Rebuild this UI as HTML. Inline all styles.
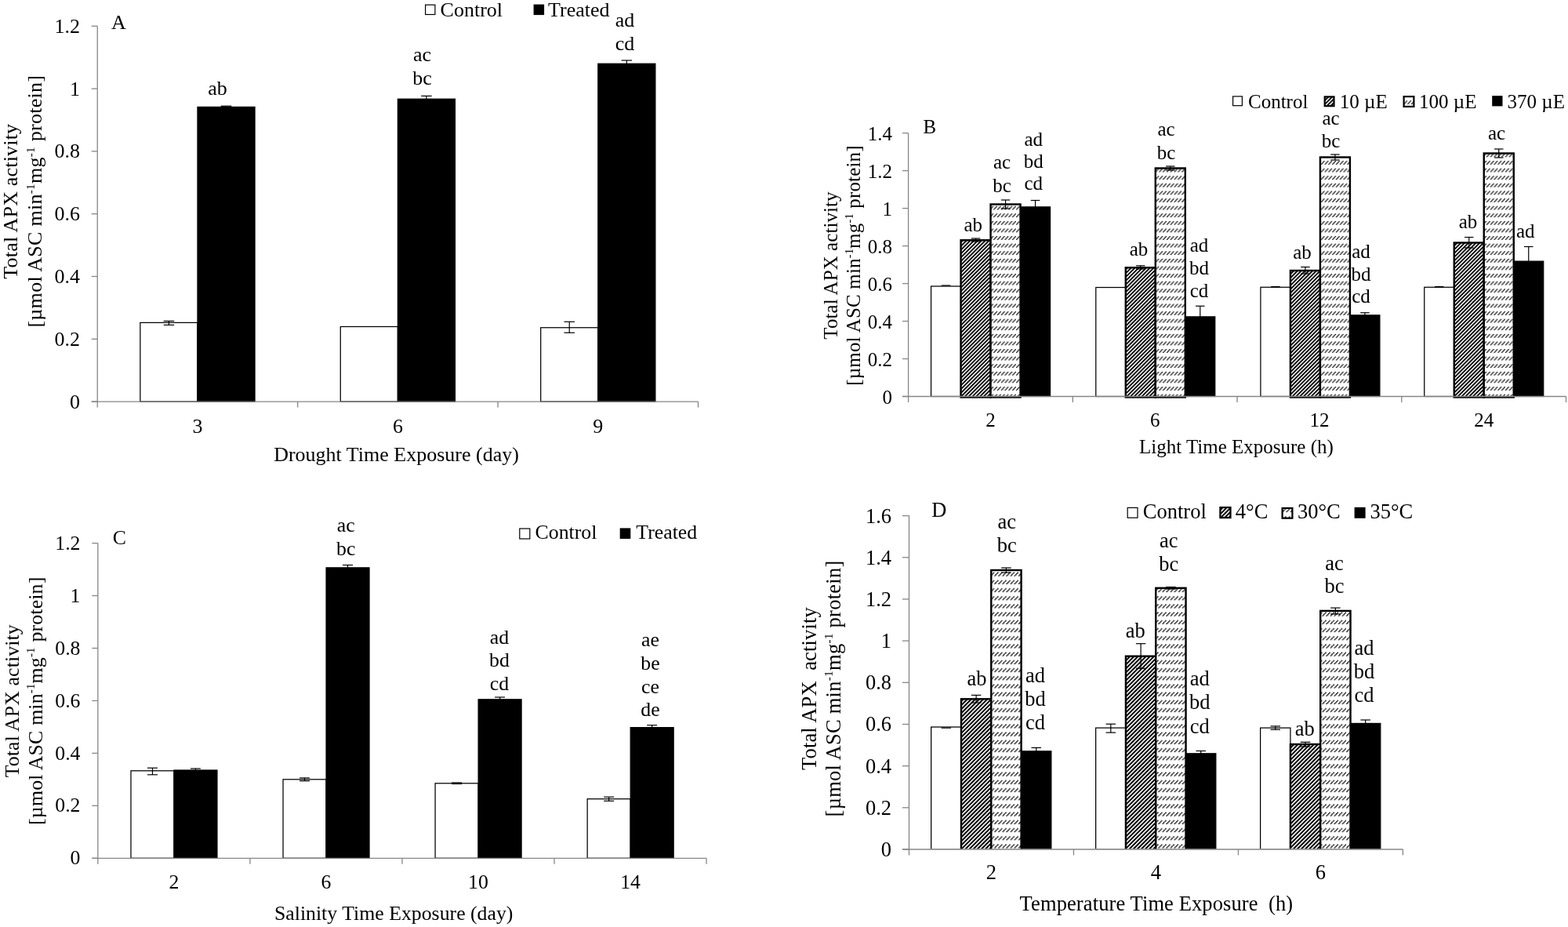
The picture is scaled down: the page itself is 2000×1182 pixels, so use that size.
<!DOCTYPE html>
<html><head><meta charset="utf-8"><title>Total APX activity</title>
<style>html,body{margin:0;padding:0;background:#fff;}svg{display:block;}</style>
</head><body>
<svg width="2000" height="1182" viewBox="0 0 2000 1182">
<defs>
<pattern id="dkB" patternUnits="userSpaceOnUse" width="3.3941" height="20" patternTransform="rotate(45)"><rect width="3.3941" height="20" fill="#000"/><rect x="0" width="1.527" height="20" fill="#fff"/></pattern>
<pattern id="ltB" patternUnits="userSpaceOnUse" width="8" height="8" patternTransform="translate(0,-1.3) scale(1.2)"><rect width="8" height="8" fill="#fff"/><path d="M2.85,4h1.3v1h-1.3zM6.85,4h1.3v1h-1.3zM1.85,5h1.3v1h-1.3zM5.85,5h1.3v1h-1.3zM0.85,6h1.3v1h-1.3zM4.85,6h1.3v1h-1.3zM-0.15,7h1.3v1h-1.3zM3.85,7h1.3v1h-1.3z" fill="#000"/></pattern>
<pattern id="dkD" patternUnits="userSpaceOnUse" width="3.6062" height="20" patternTransform="rotate(45)"><rect width="3.6062" height="20" fill="#000"/><rect x="0" width="1.623" height="20" fill="#fff"/></pattern>
<pattern id="ltD" patternUnits="userSpaceOnUse" width="8" height="8" patternTransform="translate(3.5,0.35) scale(1.275)"><rect width="8" height="8" fill="#fff"/><path d="M2.85,4h1.3v1h-1.3zM6.85,4h1.3v1h-1.3zM1.85,5h1.3v1h-1.3zM5.85,5h1.3v1h-1.3zM0.85,6h1.3v1h-1.3zM4.85,6h1.3v1h-1.3zM-0.15,7h1.3v1h-1.3zM3.85,7h1.3v1h-1.3z" fill="#000"/></pattern>
</defs>
<rect width="2000" height="1182" fill="#fff"/>
<g font-family='"Liberation Serif", "Times New Roman", serif' fill="#000">
<rect x="178.86" y="411.4" width="73.1" height="100.7" fill="#fff" stroke="#000" stroke-width="1.25"/>
<rect x="251.96" y="136.4" width="73.1" height="375.7" fill="#000" stroke="#000" stroke-width="1.2"/>
<rect x="434.28" y="416.5" width="73.1" height="95.6" fill="#fff" stroke="#000" stroke-width="1.25"/>
<rect x="507.38" y="126.2" width="73.1" height="385.9" fill="#000" stroke="#000" stroke-width="1.2"/>
<rect x="689.7" y="417.75" width="73.1" height="94.35" fill="#fff" stroke="#000" stroke-width="1.25"/>
<rect x="762.8" y="81.2" width="73.1" height="430.9" fill="#000" stroke="#000" stroke-width="1.2"/>
<line x1="215.41" y1="409.4" x2="215.41" y2="414.4" stroke="#000" stroke-width="1.2"/>
<line x1="208.66" y1="409.4" x2="222.16" y2="409.4" stroke="#000" stroke-width="1.2"/>
<line x1="208.66" y1="414.4" x2="222.16" y2="414.4" stroke="#000" stroke-width="1.2"/>
<line x1="288.51" y1="135.2" x2="288.51" y2="136.4" stroke="#000" stroke-width="1.2"/>
<line x1="281.76" y1="135.2" x2="295.26" y2="135.2" stroke="#000" stroke-width="1.2"/>
<line x1="281.76" y1="136.4" x2="295.26" y2="136.4" stroke="#000" stroke-width="1.2"/>
<line x1="543.93" y1="122.4" x2="543.93" y2="128.8" stroke="#000" stroke-width="1.2"/>
<line x1="537.18" y1="122.4" x2="550.68" y2="122.4" stroke="#000" stroke-width="1.2"/>
<line x1="537.18" y1="128.8" x2="550.68" y2="128.8" stroke="#000" stroke-width="1.2"/>
<line x1="726.25" y1="410.25" x2="726.25" y2="424.25" stroke="#000" stroke-width="1.2"/>
<line x1="719.5" y1="410.25" x2="733" y2="410.25" stroke="#000" stroke-width="1.2"/>
<line x1="719.5" y1="424.25" x2="733" y2="424.25" stroke="#000" stroke-width="1.2"/>
<line x1="799.35" y1="77" x2="799.35" y2="84.2" stroke="#000" stroke-width="1.2"/>
<line x1="792.6" y1="77" x2="806.1" y2="77" stroke="#000" stroke-width="1.2"/>
<line x1="792.6" y1="84.2" x2="806.1" y2="84.2" stroke="#000" stroke-width="1.2"/>
<line x1="124.25" y1="33.3" x2="124.25" y2="512.1" stroke="#868686" stroke-width="1.3"/>
<line x1="116.75" y1="512.1" x2="890.51" y2="512.1" stroke="#868686" stroke-width="1.3"/>
<line x1="116.75" y1="33.3" x2="124.25" y2="33.3" stroke="#868686" stroke-width="1.3"/>
<text x="102" y="41.8" font-size="26" text-anchor="end">1.2</text>
<line x1="116.75" y1="113.1" x2="124.25" y2="113.1" stroke="#868686" stroke-width="1.3"/>
<text x="102" y="121.6" font-size="26" text-anchor="end">1</text>
<line x1="116.75" y1="192.9" x2="124.25" y2="192.9" stroke="#868686" stroke-width="1.3"/>
<text x="102" y="201.4" font-size="26" text-anchor="end">0.8</text>
<line x1="116.75" y1="272.7" x2="124.25" y2="272.7" stroke="#868686" stroke-width="1.3"/>
<text x="102" y="281.2" font-size="26" text-anchor="end">0.6</text>
<line x1="116.75" y1="352.5" x2="124.25" y2="352.5" stroke="#868686" stroke-width="1.3"/>
<text x="102" y="361" font-size="26" text-anchor="end">0.4</text>
<line x1="116.75" y1="432.3" x2="124.25" y2="432.3" stroke="#868686" stroke-width="1.3"/>
<text x="102" y="440.8" font-size="26" text-anchor="end">0.2</text>
<line x1="116.75" y1="512.1" x2="124.25" y2="512.1" stroke="#868686" stroke-width="1.3"/>
<text x="102" y="520.6" font-size="26" text-anchor="end">0</text>
<line x1="124.25" y1="512.1" x2="124.25" y2="519.6" stroke="#868686" stroke-width="1.3"/>
<line x1="379.67" y1="512.1" x2="379.67" y2="519.6" stroke="#868686" stroke-width="1.3"/>
<line x1="635.09" y1="512.1" x2="635.09" y2="519.6" stroke="#868686" stroke-width="1.3"/>
<line x1="890.51" y1="512.1" x2="890.51" y2="519.6" stroke="#868686" stroke-width="1.3"/>
<text x="251.96" y="551.6" font-size="26" text-anchor="middle">3</text>
<text x="507.38" y="551.6" font-size="26" text-anchor="middle">6</text>
<text x="762.8" y="551.6" font-size="26" text-anchor="middle">9</text>
<text x="505.5" y="587.5" font-size="26" text-anchor="middle">Drought Time Exposure (day)</text>
<text transform="translate(22.4,256.8) rotate(-90)" font-size="26" text-anchor="middle" textLength="197.7" lengthAdjust="spacing">Total APX activity</text>
<text transform="translate(53.3,256.8) rotate(-90)" font-size="26" text-anchor="middle" textLength="321.6" lengthAdjust="spacing">[µmol ASC min<tspan font-size="15.1" dy="-9.4">-1</tspan><tspan dy="9.4">mg</tspan><tspan font-size="15.1" dy="-9.4">-1</tspan><tspan dy="9.4"> protein]</tspan></text>
<text x="142" y="36.5" font-size="26" text-anchor="start">A</text>
<rect x="542.6" y="6.2" width="12.3" height="12.3" fill="#fff" stroke="#000" stroke-width="1.2"/>
<text x="561.6" y="21" font-size="26" text-anchor="start">Control</text>
<rect x="680.6" y="5.6" width="13.5" height="13.5" fill="#000"/>
<text x="699" y="21" font-size="26" text-anchor="start">Treated</text>
<text x="277.4" y="121.3" font-size="26" text-anchor="middle">ab</text>
<text x="538.5" y="78" font-size="26" text-anchor="middle">ac</text>
<text x="538.5" y="107.5" font-size="26" text-anchor="middle">bc</text>
<text x="797" y="34.4" font-size="26" text-anchor="middle">ad</text>
<text x="797" y="64.4" font-size="26" text-anchor="middle">cd</text>
<rect x="1187.56" y="365" width="38" height="140.5" fill="#fff" stroke="#000" stroke-width="1.25"/>
<rect x="1225.56" y="306.25" width="38" height="200.25" fill="url(#dkB)" stroke="#000" stroke-width="2.4"/>
<rect x="1263.56" y="260.5" width="38" height="246" fill="url(#ltB)" stroke="#000" stroke-width="2.4"/>
<rect x="1301.56" y="263.85" width="38" height="241.65" fill="#000" stroke="#000" stroke-width="1.2"/>
<rect x="1397.79" y="366.5" width="38" height="139" fill="#fff" stroke="#000" stroke-width="1.25"/>
<rect x="1435.79" y="341.25" width="38" height="165.25" fill="url(#dkB)" stroke="#000" stroke-width="2.4"/>
<rect x="1473.79" y="214.5" width="38" height="292" fill="url(#ltB)" stroke="#000" stroke-width="2.4"/>
<rect x="1511.79" y="403.85" width="38" height="101.65" fill="#000" stroke="#000" stroke-width="1.2"/>
<rect x="1607.92" y="366.25" width="38" height="139.25" fill="#fff" stroke="#000" stroke-width="1.25"/>
<rect x="1645.92" y="345" width="38" height="161.5" fill="url(#dkB)" stroke="#000" stroke-width="2.4"/>
<rect x="1683.92" y="200.5" width="38" height="306" fill="url(#ltB)" stroke="#000" stroke-width="2.4"/>
<rect x="1721.92" y="401.85" width="38" height="103.65" fill="#000" stroke="#000" stroke-width="1.2"/>
<rect x="1816.75" y="366.25" width="38" height="139.25" fill="#fff" stroke="#000" stroke-width="1.25"/>
<rect x="1854.75" y="309.5" width="38" height="197" fill="url(#dkB)" stroke="#000" stroke-width="2.4"/>
<rect x="1892.75" y="195.5" width="38" height="311" fill="url(#ltB)" stroke="#000" stroke-width="2.4"/>
<rect x="1930.75" y="333.1" width="38" height="172.4" fill="#000" stroke="#000" stroke-width="1.2"/>
<line x1="1200.81" y1="364" x2="1212.31" y2="364" stroke="#000" stroke-width="1.2"/>
<line x1="1244.56" y1="304" x2="1244.56" y2="308" stroke="#000" stroke-width="1.2"/>
<line x1="1238.81" y1="304" x2="1250.31" y2="304" stroke="#000" stroke-width="1.2"/>
<line x1="1238.81" y1="308" x2="1250.31" y2="308" stroke="#000" stroke-width="1.2"/>
<line x1="1282.56" y1="255" x2="1282.56" y2="266" stroke="#000" stroke-width="1.2"/>
<line x1="1276.81" y1="255" x2="1288.31" y2="255" stroke="#000" stroke-width="1.2"/>
<line x1="1276.81" y1="266" x2="1288.31" y2="266" stroke="#000" stroke-width="1.2"/>
<line x1="1320.56" y1="255.5" x2="1320.56" y2="271" stroke="#000" stroke-width="1.2"/>
<line x1="1314.81" y1="255.5" x2="1326.31" y2="255.5" stroke="#000" stroke-width="1.2"/>
<line x1="1314.81" y1="271" x2="1326.31" y2="271" stroke="#000" stroke-width="1.2"/>
<line x1="1454.79" y1="338.75" x2="1454.79" y2="343" stroke="#000" stroke-width="1.2"/>
<line x1="1449.04" y1="338.75" x2="1460.54" y2="338.75" stroke="#000" stroke-width="1.2"/>
<line x1="1449.04" y1="343" x2="1460.54" y2="343" stroke="#000" stroke-width="1.2"/>
<line x1="1492.79" y1="212" x2="1492.79" y2="217" stroke="#000" stroke-width="1.2"/>
<line x1="1487.04" y1="212" x2="1498.54" y2="212" stroke="#000" stroke-width="1.2"/>
<line x1="1487.04" y1="217" x2="1498.54" y2="217" stroke="#000" stroke-width="1.2"/>
<line x1="1530.79" y1="390.25" x2="1530.79" y2="416.25" stroke="#000" stroke-width="1.2"/>
<line x1="1525.04" y1="390.25" x2="1536.54" y2="390.25" stroke="#000" stroke-width="1.2"/>
<line x1="1525.04" y1="416.25" x2="1536.54" y2="416.25" stroke="#000" stroke-width="1.2"/>
<line x1="1621.17" y1="365.5" x2="1632.67" y2="365.5" stroke="#000" stroke-width="1.2"/>
<line x1="1664.92" y1="340.5" x2="1664.92" y2="349" stroke="#000" stroke-width="1.2"/>
<line x1="1659.17" y1="340.5" x2="1670.67" y2="340.5" stroke="#000" stroke-width="1.2"/>
<line x1="1659.17" y1="349" x2="1670.67" y2="349" stroke="#000" stroke-width="1.2"/>
<line x1="1702.92" y1="197" x2="1702.92" y2="204" stroke="#000" stroke-width="1.2"/>
<line x1="1697.17" y1="197" x2="1708.67" y2="197" stroke="#000" stroke-width="1.2"/>
<line x1="1697.17" y1="204" x2="1708.67" y2="204" stroke="#000" stroke-width="1.2"/>
<line x1="1740.92" y1="398.75" x2="1740.92" y2="403.75" stroke="#000" stroke-width="1.2"/>
<line x1="1735.17" y1="398.75" x2="1746.67" y2="398.75" stroke="#000" stroke-width="1.2"/>
<line x1="1735.17" y1="403.75" x2="1746.67" y2="403.75" stroke="#000" stroke-width="1.2"/>
<line x1="1830" y1="365.5" x2="1841.5" y2="365.5" stroke="#000" stroke-width="1.2"/>
<line x1="1873.75" y1="302.5" x2="1873.75" y2="316" stroke="#000" stroke-width="1.2"/>
<line x1="1868" y1="302.5" x2="1879.5" y2="302.5" stroke="#000" stroke-width="1.2"/>
<line x1="1868" y1="316" x2="1879.5" y2="316" stroke="#000" stroke-width="1.2"/>
<line x1="1911.75" y1="190" x2="1911.75" y2="201" stroke="#000" stroke-width="1.2"/>
<line x1="1906" y1="190" x2="1917.5" y2="190" stroke="#000" stroke-width="1.2"/>
<line x1="1906" y1="201" x2="1917.5" y2="201" stroke="#000" stroke-width="1.2"/>
<line x1="1949.75" y1="314.5" x2="1949.75" y2="350.5" stroke="#000" stroke-width="1.2"/>
<line x1="1944" y1="314.5" x2="1955.5" y2="314.5" stroke="#000" stroke-width="1.2"/>
<line x1="1944" y1="350.5" x2="1955.5" y2="350.5" stroke="#000" stroke-width="1.2"/>
<line x1="1158.6" y1="169.65" x2="1158.6" y2="505.5" stroke="#868686" stroke-width="1.3"/>
<line x1="1151.1" y1="505.5" x2="1997.52" y2="505.5" stroke="#868686" stroke-width="1.3"/>
<line x1="1151.1" y1="169.65" x2="1158.6" y2="169.65" stroke="#868686" stroke-width="1.3"/>
<text x="1138" y="179.25" font-size="25" text-anchor="end">1.4</text>
<line x1="1151.1" y1="217.63" x2="1158.6" y2="217.63" stroke="#868686" stroke-width="1.3"/>
<text x="1138" y="227.23" font-size="25" text-anchor="end">1.2</text>
<line x1="1151.1" y1="265.61" x2="1158.6" y2="265.61" stroke="#868686" stroke-width="1.3"/>
<text x="1138" y="275.21" font-size="25" text-anchor="end">1</text>
<line x1="1151.1" y1="313.59" x2="1158.6" y2="313.59" stroke="#868686" stroke-width="1.3"/>
<text x="1138" y="323.19" font-size="25" text-anchor="end">0.8</text>
<line x1="1151.1" y1="361.56" x2="1158.6" y2="361.56" stroke="#868686" stroke-width="1.3"/>
<text x="1138" y="371.16" font-size="25" text-anchor="end">0.6</text>
<line x1="1151.1" y1="409.54" x2="1158.6" y2="409.54" stroke="#868686" stroke-width="1.3"/>
<text x="1138" y="419.14" font-size="25" text-anchor="end">0.4</text>
<line x1="1151.1" y1="457.52" x2="1158.6" y2="457.52" stroke="#868686" stroke-width="1.3"/>
<text x="1138" y="467.12" font-size="25" text-anchor="end">0.2</text>
<line x1="1151.1" y1="505.5" x2="1158.6" y2="505.5" stroke="#868686" stroke-width="1.3"/>
<text x="1138" y="515.1" font-size="25" text-anchor="end">0</text>
<line x1="1158.6" y1="505.5" x2="1158.6" y2="513" stroke="#868686" stroke-width="1.3"/>
<line x1="1368.33" y1="505.5" x2="1368.33" y2="513" stroke="#868686" stroke-width="1.3"/>
<line x1="1578.06" y1="505.5" x2="1578.06" y2="513" stroke="#868686" stroke-width="1.3"/>
<line x1="1787.79" y1="505.5" x2="1787.79" y2="513" stroke="#868686" stroke-width="1.3"/>
<line x1="1997.52" y1="505.5" x2="1997.52" y2="513" stroke="#868686" stroke-width="1.3"/>
<text x="1263.46" y="543.75" font-size="25" text-anchor="middle">2</text>
<text x="1473.19" y="543.75" font-size="25" text-anchor="middle">6</text>
<text x="1682.92" y="543.75" font-size="25" text-anchor="middle">12</text>
<text x="1892.65" y="543.75" font-size="25" text-anchor="middle">24</text>
<text x="1576.9" y="578" font-size="25" text-anchor="middle">Light Time Exposure (h)</text>
<text transform="translate(1067.5,338.6) rotate(-90)" font-size="25" text-anchor="middle" textLength="188.2" lengthAdjust="spacing">Total APX activity</text>
<text transform="translate(1096.5,338.6) rotate(-90)" font-size="25" text-anchor="middle" textLength="306.3" lengthAdjust="spacing">[µmol ASC min<tspan font-size="14.5" dy="-9.0">-1</tspan><tspan dy="9.0">mg</tspan><tspan font-size="14.5" dy="-9.0">-1</tspan><tspan dy="9.0"> protein]</tspan></text>
<text x="1177.5" y="170" font-size="25" text-anchor="start">B</text>
<rect x="1572.6" y="122.9" width="11.8" height="11.8" fill="#fff" stroke="#000" stroke-width="1.2"/>
<text x="1592" y="137.5" font-size="25" text-anchor="start">Control</text>
<rect x="1689.7" y="123.4" width="11.8" height="11.8" fill="url(#dkB)" stroke="#000" stroke-width="2.2"/>
<text x="1708.75" y="137.5" font-size="25" text-anchor="start">10 µE</text>
<rect x="1790.6" y="123.1" width="12.8" height="12.8" fill="url(#ltB)" stroke="#000" stroke-width="2.2"/>
<text x="1810" y="137.5" font-size="25" text-anchor="start">100 µE</text>
<rect x="1903.2" y="122.1" width="13.3" height="13.3" fill="#000"/>
<text x="1922.5" y="137.5" font-size="25" text-anchor="start">370 µE</text>
<text x="1241.25" y="294.5" font-size="25" text-anchor="middle">ab</text>
<text x="1278" y="215" font-size="25" text-anchor="middle">ac</text>
<text x="1278" y="244.5" font-size="25" text-anchor="middle">bc</text>
<text x="1318.25" y="185.5" font-size="25" text-anchor="middle">ad</text>
<text x="1318.25" y="213.8" font-size="25" text-anchor="middle">bd</text>
<text x="1318.25" y="242.1" font-size="25" text-anchor="middle">cd</text>
<text x="1452.5" y="325.5" font-size="25" text-anchor="middle">ab</text>
<text x="1487.5" y="173" font-size="25" text-anchor="middle">ac</text>
<text x="1487.5" y="202.5" font-size="25" text-anchor="middle">bc</text>
<text x="1529.5" y="321.25" font-size="25" text-anchor="middle">ad</text>
<text x="1529.5" y="350.35" font-size="25" text-anchor="middle">bd</text>
<text x="1529.5" y="379.45" font-size="25" text-anchor="middle">cd</text>
<text x="1661" y="330" font-size="25" text-anchor="middle">ab</text>
<text x="1697.5" y="158.75" font-size="25" text-anchor="middle">ac</text>
<text x="1697.5" y="188.05" font-size="25" text-anchor="middle">bc</text>
<text x="1736" y="328.75" font-size="25" text-anchor="middle">ad</text>
<text x="1736" y="357.55" font-size="25" text-anchor="middle">bd</text>
<text x="1736" y="386.35" font-size="25" text-anchor="middle">cd</text>
<text x="1872.5" y="291" font-size="25" text-anchor="middle">ab</text>
<text x="1909" y="178" font-size="25" text-anchor="middle">ac</text>
<text x="1945.75" y="302.5" font-size="25" text-anchor="middle">ad</text>
<rect x="166.98" y="982.8" width="55" height="111.5" fill="#fff" stroke="#000" stroke-width="1.25"/>
<rect x="221.98" y="982" width="55" height="112.3" fill="#000" stroke="#000" stroke-width="1.2"/>
<rect x="361.04" y="993.8" width="55" height="100.5" fill="#fff" stroke="#000" stroke-width="1.25"/>
<rect x="416.04" y="723.85" width="55" height="370.45" fill="#000" stroke="#000" stroke-width="1.2"/>
<rect x="555.1" y="998.8" width="55" height="95.5" fill="#fff" stroke="#000" stroke-width="1.25"/>
<rect x="610.1" y="891.8" width="55" height="202.5" fill="#000" stroke="#000" stroke-width="1.2"/>
<rect x="749.16" y="1018.7" width="55" height="75.6" fill="#fff" stroke="#000" stroke-width="1.25"/>
<rect x="804.16" y="927.6" width="55" height="166.7" fill="#000" stroke="#000" stroke-width="1.2"/>
<line x1="194.48" y1="979.2" x2="194.48" y2="987.8" stroke="#000" stroke-width="1.2"/>
<line x1="187.98" y1="979.2" x2="200.98" y2="979.2" stroke="#000" stroke-width="1.2"/>
<line x1="187.98" y1="987.8" x2="200.98" y2="987.8" stroke="#000" stroke-width="1.2"/>
<line x1="249.48" y1="980" x2="249.48" y2="982.8" stroke="#000" stroke-width="1.2"/>
<line x1="242.98" y1="980" x2="255.98" y2="980" stroke="#000" stroke-width="1.2"/>
<line x1="242.98" y1="982.8" x2="255.98" y2="982.8" stroke="#000" stroke-width="1.2"/>
<line x1="388.54" y1="991.9" x2="388.54" y2="995.7" stroke="#000" stroke-width="1.2"/>
<line x1="382.04" y1="991.9" x2="395.04" y2="991.9" stroke="#000" stroke-width="1.2"/>
<line x1="382.04" y1="995.7" x2="395.04" y2="995.7" stroke="#000" stroke-width="1.2"/>
<line x1="443.54" y1="720.5" x2="443.54" y2="726" stroke="#000" stroke-width="1.2"/>
<line x1="437.04" y1="720.5" x2="450.04" y2="720.5" stroke="#000" stroke-width="1.2"/>
<line x1="437.04" y1="726" x2="450.04" y2="726" stroke="#000" stroke-width="1.2"/>
<line x1="582.6" y1="998" x2="582.6" y2="999.5" stroke="#000" stroke-width="1.2"/>
<line x1="576.1" y1="998" x2="589.1" y2="998" stroke="#000" stroke-width="1.2"/>
<line x1="576.1" y1="999.5" x2="589.1" y2="999.5" stroke="#000" stroke-width="1.2"/>
<line x1="637.6" y1="889" x2="637.6" y2="893.4" stroke="#000" stroke-width="1.2"/>
<line x1="631.1" y1="889" x2="644.1" y2="889" stroke="#000" stroke-width="1.2"/>
<line x1="631.1" y1="893.4" x2="644.1" y2="893.4" stroke="#000" stroke-width="1.2"/>
<line x1="776.66" y1="1016.2" x2="776.66" y2="1021.3" stroke="#000" stroke-width="1.2"/>
<line x1="770.16" y1="1016.2" x2="783.16" y2="1016.2" stroke="#000" stroke-width="1.2"/>
<line x1="770.16" y1="1021.3" x2="783.16" y2="1021.3" stroke="#000" stroke-width="1.2"/>
<line x1="831.66" y1="924.7" x2="831.66" y2="929.3" stroke="#000" stroke-width="1.2"/>
<line x1="825.16" y1="924.7" x2="838.16" y2="924.7" stroke="#000" stroke-width="1.2"/>
<line x1="825.16" y1="929.3" x2="838.16" y2="929.3" stroke="#000" stroke-width="1.2"/>
<line x1="124.85" y1="692.6" x2="124.85" y2="1094.3" stroke="#868686" stroke-width="1.3"/>
<line x1="117.35" y1="1094.3" x2="901.09" y2="1094.3" stroke="#868686" stroke-width="1.3"/>
<line x1="117.35" y1="692.6" x2="124.85" y2="692.6" stroke="#868686" stroke-width="1.3"/>
<text x="102.5" y="700.7" font-size="25.8" text-anchor="end">1.2</text>
<line x1="117.35" y1="759.55" x2="124.85" y2="759.55" stroke="#868686" stroke-width="1.3"/>
<text x="102.5" y="767.65" font-size="25.8" text-anchor="end">1</text>
<line x1="117.35" y1="826.5" x2="124.85" y2="826.5" stroke="#868686" stroke-width="1.3"/>
<text x="102.5" y="834.6" font-size="25.8" text-anchor="end">0.8</text>
<line x1="117.35" y1="893.45" x2="124.85" y2="893.45" stroke="#868686" stroke-width="1.3"/>
<text x="102.5" y="901.55" font-size="25.8" text-anchor="end">0.6</text>
<line x1="117.35" y1="960.4" x2="124.85" y2="960.4" stroke="#868686" stroke-width="1.3"/>
<text x="102.5" y="968.5" font-size="25.8" text-anchor="end">0.4</text>
<line x1="117.35" y1="1027.35" x2="124.85" y2="1027.35" stroke="#868686" stroke-width="1.3"/>
<text x="102.5" y="1035.45" font-size="25.8" text-anchor="end">0.2</text>
<line x1="117.35" y1="1094.3" x2="124.85" y2="1094.3" stroke="#868686" stroke-width="1.3"/>
<text x="102.5" y="1102.4" font-size="25.8" text-anchor="end">0</text>
<line x1="124.85" y1="1094.3" x2="124.85" y2="1101.8" stroke="#868686" stroke-width="1.3"/>
<line x1="318.91" y1="1094.3" x2="318.91" y2="1101.8" stroke="#868686" stroke-width="1.3"/>
<line x1="512.97" y1="1094.3" x2="512.97" y2="1101.8" stroke="#868686" stroke-width="1.3"/>
<line x1="707.03" y1="1094.3" x2="707.03" y2="1101.8" stroke="#868686" stroke-width="1.3"/>
<line x1="901.09" y1="1094.3" x2="901.09" y2="1101.8" stroke="#868686" stroke-width="1.3"/>
<text x="221.88" y="1133" font-size="25.8" text-anchor="middle">2</text>
<text x="415.94" y="1133" font-size="25.8" text-anchor="middle">6</text>
<text x="610" y="1133" font-size="25.8" text-anchor="middle">10</text>
<text x="804.06" y="1133" font-size="25.8" text-anchor="middle">14</text>
<text x="502.2" y="1173.3" font-size="25.8" text-anchor="middle">Salinity Time Exposure (day)</text>
<text transform="translate(23.7,893.8) rotate(-90)" font-size="25.8" text-anchor="middle" textLength="194.9" lengthAdjust="spacing">Total APX activity</text>
<text transform="translate(53.5,893.8) rotate(-90)" font-size="25.8" text-anchor="middle" textLength="316.2" lengthAdjust="spacing">[µmol ASC min<tspan font-size="15.0" dy="-9.3">-1</tspan><tspan dy="9.3">mg</tspan><tspan font-size="15.0" dy="-9.3">-1</tspan><tspan dy="9.3"> protein]</tspan></text>
<text x="143.75" y="693.75" font-size="25.8" text-anchor="start">C</text>
<rect x="662.8" y="674" width="13" height="13" fill="#fff" stroke="#000" stroke-width="1.2"/>
<text x="682.6" y="687.3" font-size="25.8" text-anchor="start">Control</text>
<rect x="790.7" y="673.4" width="13.6" height="13.6" fill="#000"/>
<text x="811.3" y="687.3" font-size="25.8" text-anchor="start">Treated</text>
<text x="441.25" y="678.1" font-size="25.8" text-anchor="middle">ac</text>
<text x="441.25" y="707.7" font-size="25.8" text-anchor="middle">bc</text>
<text x="636.9" y="820.5" font-size="25.8" text-anchor="middle">ad</text>
<text x="636.9" y="850.2" font-size="25.8" text-anchor="middle">bd</text>
<text x="636.9" y="879.9" font-size="25.8" text-anchor="middle">cd</text>
<text x="829.5" y="824.2" font-size="25.8" text-anchor="middle">ae</text>
<text x="829.5" y="853.9" font-size="25.8" text-anchor="middle">be</text>
<text x="829.5" y="883.6" font-size="25.8" text-anchor="middle">ce</text>
<text x="829.5" y="913.3" font-size="25.8" text-anchor="middle">de</text>
<clipPath id="clipD"><rect x="0" y="0" width="2000" height="1082.4"/></clipPath><g clip-path="url(#clipD)">
<rect x="1187.68" y="927" width="38.3" height="156" fill="#fff" stroke="#000" stroke-width="1.25"/>
<rect x="1225.98" y="891.3" width="38.3" height="194.7" fill="url(#dkD)" stroke="#000" stroke-width="2.4"/>
<rect x="1264.28" y="727" width="38.3" height="359" fill="url(#ltD)" stroke="#000" stroke-width="2.4"/>
<rect x="1302.58" y="957.8" width="38.3" height="125.2" fill="#000" stroke="#000" stroke-width="1.2"/>
<rect x="1397.65" y="928.1" width="38.3" height="154.9" fill="#fff" stroke="#000" stroke-width="1.25"/>
<rect x="1435.95" y="836.7" width="38.3" height="249.3" fill="url(#dkD)" stroke="#000" stroke-width="2.4"/>
<rect x="1474.25" y="749.8" width="38.3" height="336.2" fill="url(#ltD)" stroke="#000" stroke-width="2.4"/>
<rect x="1512.55" y="960.8" width="38.3" height="122.2" fill="#000" stroke="#000" stroke-width="1.2"/>
<rect x="1607.62" y="928.1" width="38.3" height="154.9" fill="#fff" stroke="#000" stroke-width="1.25"/>
<rect x="1645.92" y="949" width="38.3" height="137" fill="url(#dkD)" stroke="#000" stroke-width="2.4"/>
<rect x="1684.22" y="778.9" width="38.3" height="307.1" fill="url(#ltD)" stroke="#000" stroke-width="2.4"/>
<rect x="1722.52" y="922.4" width="38.3" height="160.6" fill="#000" stroke="#000" stroke-width="1.2"/>
</g>
<line x1="1200.59" y1="928.2" x2="1213.09" y2="928.2" stroke="#000" stroke-width="1.2"/>
<line x1="1245.13" y1="886.4" x2="1245.13" y2="896" stroke="#000" stroke-width="1.2"/>
<line x1="1238.88" y1="886.4" x2="1251.38" y2="886.4" stroke="#000" stroke-width="1.2"/>
<line x1="1238.88" y1="896" x2="1251.38" y2="896" stroke="#000" stroke-width="1.2"/>
<line x1="1283.43" y1="724" x2="1283.43" y2="730" stroke="#000" stroke-width="1.2"/>
<line x1="1277.18" y1="724" x2="1289.68" y2="724" stroke="#000" stroke-width="1.2"/>
<line x1="1277.18" y1="730" x2="1289.68" y2="730" stroke="#000" stroke-width="1.2"/>
<line x1="1321.73" y1="953.4" x2="1321.73" y2="961" stroke="#000" stroke-width="1.2"/>
<line x1="1315.48" y1="953.4" x2="1327.98" y2="953.4" stroke="#000" stroke-width="1.2"/>
<line x1="1315.48" y1="961" x2="1327.98" y2="961" stroke="#000" stroke-width="1.2"/>
<line x1="1416.81" y1="923.2" x2="1416.81" y2="934.1" stroke="#000" stroke-width="1.2"/>
<line x1="1410.56" y1="923.2" x2="1423.06" y2="923.2" stroke="#000" stroke-width="1.2"/>
<line x1="1410.56" y1="934.1" x2="1423.06" y2="934.1" stroke="#000" stroke-width="1.2"/>
<line x1="1455.11" y1="820.7" x2="1455.11" y2="852.3" stroke="#000" stroke-width="1.2"/>
<line x1="1448.86" y1="820.7" x2="1461.36" y2="820.7" stroke="#000" stroke-width="1.2"/>
<line x1="1448.86" y1="852.3" x2="1461.36" y2="852.3" stroke="#000" stroke-width="1.2"/>
<line x1="1493.4" y1="748.5" x2="1493.4" y2="751" stroke="#000" stroke-width="1.2"/>
<line x1="1487.15" y1="748.5" x2="1499.65" y2="748.5" stroke="#000" stroke-width="1.2"/>
<line x1="1487.15" y1="751" x2="1499.65" y2="751" stroke="#000" stroke-width="1.2"/>
<line x1="1531.7" y1="957.5" x2="1531.7" y2="962.9" stroke="#000" stroke-width="1.2"/>
<line x1="1525.45" y1="957.5" x2="1537.95" y2="957.5" stroke="#000" stroke-width="1.2"/>
<line x1="1525.45" y1="962.9" x2="1537.95" y2="962.9" stroke="#000" stroke-width="1.2"/>
<line x1="1626.78" y1="925.9" x2="1626.78" y2="930.3" stroke="#000" stroke-width="1.2"/>
<line x1="1620.53" y1="925.9" x2="1633.03" y2="925.9" stroke="#000" stroke-width="1.2"/>
<line x1="1620.53" y1="930.3" x2="1633.03" y2="930.3" stroke="#000" stroke-width="1.2"/>
<line x1="1665.08" y1="946.3" x2="1665.08" y2="952" stroke="#000" stroke-width="1.2"/>
<line x1="1658.83" y1="946.3" x2="1671.33" y2="946.3" stroke="#000" stroke-width="1.2"/>
<line x1="1658.83" y1="952" x2="1671.33" y2="952" stroke="#000" stroke-width="1.2"/>
<line x1="1703.38" y1="775.1" x2="1703.38" y2="783" stroke="#000" stroke-width="1.2"/>
<line x1="1697.12" y1="775.1" x2="1709.62" y2="775.1" stroke="#000" stroke-width="1.2"/>
<line x1="1697.12" y1="783" x2="1709.62" y2="783" stroke="#000" stroke-width="1.2"/>
<line x1="1741.67" y1="918" x2="1741.67" y2="925.6" stroke="#000" stroke-width="1.2"/>
<line x1="1735.42" y1="918" x2="1747.92" y2="918" stroke="#000" stroke-width="1.2"/>
<line x1="1735.42" y1="925.6" x2="1747.92" y2="925.6" stroke="#000" stroke-width="1.2"/>
<line x1="1159.5" y1="657.6" x2="1159.5" y2="1083" stroke="#868686" stroke-width="1.3"/>
<line x1="1151" y1="1083" x2="1789.41" y2="1083" stroke="#868686" stroke-width="1.3"/>
<line x1="1151" y1="657.6" x2="1159.5" y2="657.6" stroke="#868686" stroke-width="1.3"/>
<text x="1137" y="666.6" font-size="26.5" text-anchor="end">1.6</text>
<line x1="1151" y1="710.77" x2="1159.5" y2="710.77" stroke="#868686" stroke-width="1.3"/>
<text x="1137" y="719.77" font-size="26.5" text-anchor="end">1.4</text>
<line x1="1151" y1="763.95" x2="1159.5" y2="763.95" stroke="#868686" stroke-width="1.3"/>
<text x="1137" y="772.95" font-size="26.5" text-anchor="end">1.2</text>
<line x1="1151" y1="817.12" x2="1159.5" y2="817.12" stroke="#868686" stroke-width="1.3"/>
<text x="1137" y="826.12" font-size="26.5" text-anchor="end">1</text>
<line x1="1151" y1="870.3" x2="1159.5" y2="870.3" stroke="#868686" stroke-width="1.3"/>
<text x="1137" y="879.3" font-size="26.5" text-anchor="end">0.8</text>
<line x1="1151" y1="923.48" x2="1159.5" y2="923.48" stroke="#868686" stroke-width="1.3"/>
<text x="1137" y="932.48" font-size="26.5" text-anchor="end">0.6</text>
<line x1="1151" y1="976.65" x2="1159.5" y2="976.65" stroke="#868686" stroke-width="1.3"/>
<text x="1137" y="985.65" font-size="26.5" text-anchor="end">0.4</text>
<line x1="1151" y1="1029.83" x2="1159.5" y2="1029.83" stroke="#868686" stroke-width="1.3"/>
<text x="1137" y="1038.83" font-size="26.5" text-anchor="end">0.2</text>
<line x1="1151" y1="1083" x2="1159.5" y2="1083" stroke="#868686" stroke-width="1.3"/>
<text x="1137" y="1092" font-size="26.5" text-anchor="end">0</text>
<line x1="1159.5" y1="1083" x2="1159.5" y2="1090.5" stroke="#868686" stroke-width="1.3"/>
<line x1="1369.47" y1="1083" x2="1369.47" y2="1090.5" stroke="#868686" stroke-width="1.3"/>
<line x1="1579.44" y1="1083" x2="1579.44" y2="1090.5" stroke="#868686" stroke-width="1.3"/>
<line x1="1789.41" y1="1083" x2="1789.41" y2="1090.5" stroke="#868686" stroke-width="1.3"/>
<text x="1264.48" y="1121.4" font-size="26.5" text-anchor="middle">2</text>
<text x="1474.45" y="1121.4" font-size="26.5" text-anchor="middle">4</text>
<text x="1684.42" y="1121.4" font-size="26.5" text-anchor="middle">6</text>
<text x="1474.9" y="1161" font-size="26.5" text-anchor="middle" textLength="348.6" lengthAdjust="spacing">Temperature Time Exposure&#160; (h)</text>
<text transform="translate(1041,878.1) rotate(-90)" font-size="26.5" text-anchor="middle" textLength="207.7" lengthAdjust="spacing">Total APX&#160; activity</text>
<text transform="translate(1071.9,878.1) rotate(-90)" font-size="26.5" text-anchor="middle" textLength="326.7" lengthAdjust="spacing">[µmol ASC min<tspan font-size="15.4" dy="-9.5">-1</tspan><tspan dy="9.5">mg</tspan><tspan font-size="15.4" dy="-9.5">-1</tspan><tspan dy="9.5"> protein]</tspan></text>
<text x="1188.3" y="659" font-size="26.5" text-anchor="start">D</text>
<rect x="1438.2" y="647.4" width="12.8" height="12.8" fill="#fff" stroke="#000" stroke-width="1.2"/>
<text x="1457.8" y="661.4" font-size="26.5" text-anchor="start">Control</text>
<rect x="1556.4" y="647" width="13.1" height="13.1" fill="url(#dkD)" stroke="#000" stroke-width="2.2"/>
<text x="1575.8" y="661.4" font-size="26.5" text-anchor="start">4°C</text>
<rect x="1635.6" y="647.9" width="12.8" height="12.8" fill="url(#ltD)" stroke="#000" stroke-width="2.2"/>
<text x="1655" y="661.4" font-size="26.5" text-anchor="start">30°C</text>
<rect x="1727.6" y="646.8" width="14" height="14" fill="#000"/>
<text x="1747.4" y="661.4" font-size="26.5" text-anchor="start">35°C</text>
<text x="1246" y="874" font-size="26.5" text-anchor="middle">ab</text>
<text x="1284.3" y="674" font-size="26.5" text-anchor="middle">ac</text>
<text x="1284.3" y="704.4" font-size="26.5" text-anchor="middle">bc</text>
<text x="1320.5" y="869.5" font-size="26.5" text-anchor="middle">ad</text>
<text x="1320.5" y="899.9" font-size="26.5" text-anchor="middle">bd</text>
<text x="1320.5" y="930.3" font-size="26.5" text-anchor="middle">cd</text>
<text x="1448.2" y="813" font-size="26.5" text-anchor="middle">ab</text>
<text x="1490.8" y="698.1" font-size="26.5" text-anchor="middle">ac</text>
<text x="1490.8" y="727.8" font-size="26.5" text-anchor="middle">bc</text>
<text x="1530.2" y="873.6" font-size="26.5" text-anchor="middle">ad</text>
<text x="1530.2" y="904.2" font-size="26.5" text-anchor="middle">bd</text>
<text x="1530.2" y="934.8" font-size="26.5" text-anchor="middle">cd</text>
<text x="1664.2" y="938.2" font-size="26.5" text-anchor="middle">ab</text>
<text x="1702" y="726.7" font-size="26.5" text-anchor="middle">ac</text>
<text x="1702" y="756.4" font-size="26.5" text-anchor="middle">bc</text>
<text x="1740" y="834.5" font-size="26.5" text-anchor="middle">ad</text>
<text x="1740" y="864.9" font-size="26.5" text-anchor="middle">bd</text>
<text x="1740" y="895.3" font-size="26.5" text-anchor="middle">cd</text>
</g></svg>
</body></html>
